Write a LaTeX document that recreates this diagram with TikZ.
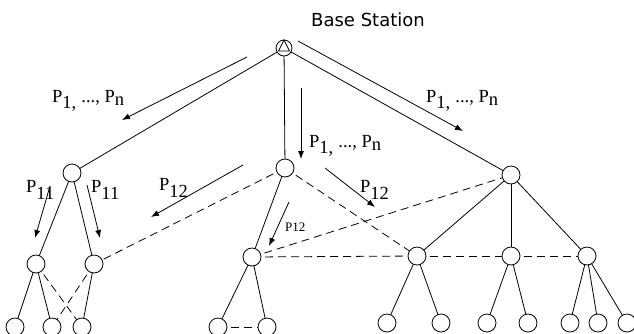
\documentclass[tikz,border=0pt]{standalone}
\usepackage{fontspec}
\setmainfont{Liberation Serif}
\newfontfamily\labelsans{DejaVu Sans}
\usetikzlibrary{arrows.meta,calc}
\begin{document}
\begin{tikzpicture}[x=1pt,y=-1pt,
  station/.style={circle,draw,fill=white,inner sep=0pt,minimum size=16pt,line width=0.8pt},
  sensor/.style={circle,draw,fill=white,inner sep=0pt,minimum size=18pt,line width=0.8pt},
  link/.style={line width=0.8pt},
  backup/.style={line width=0.8pt,dash pattern=on 8pt off 5pt},
  flow/.style={line width=0.8pt,-{Latex[length=8pt,width=6pt]}},
  msg/.style={font=\fontsize{18.5}{18.5}\selectfont,inner sep=0pt},
  msgsmall/.style={font=\fontsize{13}{13}\selectfont,inner sep=0pt}]
\useasboundingbox (0,0) rectangle (634,333);

% links
\coordinate (bs) at (284,48);
\coordinate (l) at (72,173);
\coordinate (m) at (285,168);
\coordinate (r) at (511,175);
\coordinate (ll) at (36,264);
\coordinate (lr) at (94,264);
\coordinate (ma) at (252,257);
\coordinate (ra) at (417,256);
\coordinate (rb) at (511,256);
\coordinate (rc) at (587,256);

\draw[link] (bs) -- (l);
\draw[link] (bs) -- (m);
\draw[link] (bs) -- (r);
\draw[link] (l) -- (ll);
\draw[link] (l) -- (lr);
\draw[link] (m) -- (ma);
\draw[link] (r) -- (ra);
\draw[link] (r) -- (rb);
\draw[link] (r) -- (rc);
\draw[backup] (m) -- (lr);
\draw[backup] (m) -- (ra);
\draw[backup] (ma) -- (r);
\draw[backup] (ma) -- (ra);
\draw[backup] (ra) -- (rb);
\draw[backup] (rb) -- (rc);

% leaves
\coordinate (a1) at (15,327);
\coordinate (a2) at (52,327);
\coordinate (a3) at (82,327);
\coordinate (b1) at (218,327);
\coordinate (b2) at (267,327);
\coordinate (c1) at (387,323);
\coordinate (c2) at (441,323);
\coordinate (d1) at (487,323);
\coordinate (d2) at (528,323);
\coordinate (e1) at (570,323);
\coordinate (e2) at (598,323);
\coordinate (e3) at (627,323);

\draw[link] (ll) -- (a1);
\draw[link] (ll) -- (a2);
\draw[backup] (ll) -- (a3);
\draw[link] (lr) -- (a3);
\draw[backup] (lr) -- (a2);
\draw[link] (ma) -- (b1);
\draw[link] (ma) -- (b2);
\draw[backup] (b1) -- (b2);
\draw[link] (ra) -- (c1);
\draw[link] (ra) -- (c2);
\draw[link] (rb) -- (d1);
\draw[link] (rb) -- (d2);
\draw[link] (rc) -- (e1);
\draw[link] (rc) -- (e2);
\draw[link] (rc) -- (e3);

% nodes
\node[station] (nbs) at (bs) {};
\draw[line width=0.8pt] ($(bs)+(0,-8)$) -- ($(bs)+(-5.5,3)$) -- ($(bs)+(5.5,3)$) -- cycle;
\foreach \p in {l,m,r,ll,lr,ma,ra,rb,rc,a1,a2,a3,b1,b2,c1,c2,d1,d2,e1,e2,e3}
  \node[sensor] (n\p) at (\p) {};

\node[font=\labelsans\fontsize{18}{18}\selectfont,inner sep=0pt] (title) at (368,20) {Base Station};

% packet flows
\coordinate (f1s) at (247,57);  \coordinate (f1e) at (122,120);
\coordinate (f2s) at (301,88);  \coordinate (f2e) at (301,159);
\coordinate (f3s) at (298,41);  \coordinate (f3e) at (463,131);
\coordinate (f4s) at (50,186);  \coordinate (f4e) at (35,238);
\coordinate (f5s) at (87,185);  \coordinate (f5e) at (100,238);
\coordinate (f6s) at (243,165); \coordinate (f6e) at (151,217);
\coordinate (f7s) at (289,202); \coordinate (f7e) at (269,246);
\coordinate (f8s) at (325,168); \coordinate (f8e) at (375,207);
\foreach \f in {1,...,8} \draw[flow] (f\f s) -- (f\f e);

\node[msg,anchor=west] (t1) at (52,101) {P$_{\textrm{1,}}$ ..., P$_{\textrm{n}}$};
\node[msg,anchor=west] (t2) at (309,146) {P$_{\textrm{1,}}$ ..., P$_{\textrm{n}}$};
\node[msg,anchor=west] (t3) at (426,101) {P$_{\textrm{1,}}$ ..., P$_{\textrm{n}}$};
\node[msg,anchor=west] (t4) at (26,190) {P$_{\textrm{11}}$};
\node[msg,anchor=west] (t5) at (91,190) {P$_{\textrm{11}}$};
\node[msg,anchor=west] (t6) at (159,188) {P$_{\textrm{12}}$};
\node[msgsmall,anchor=west] (t7) at (285,227) {P12};
\node[msg,anchor=west] (t8) at (360,190) {P$_{\textrm{12}}$};
\end{tikzpicture}
\end{document}
